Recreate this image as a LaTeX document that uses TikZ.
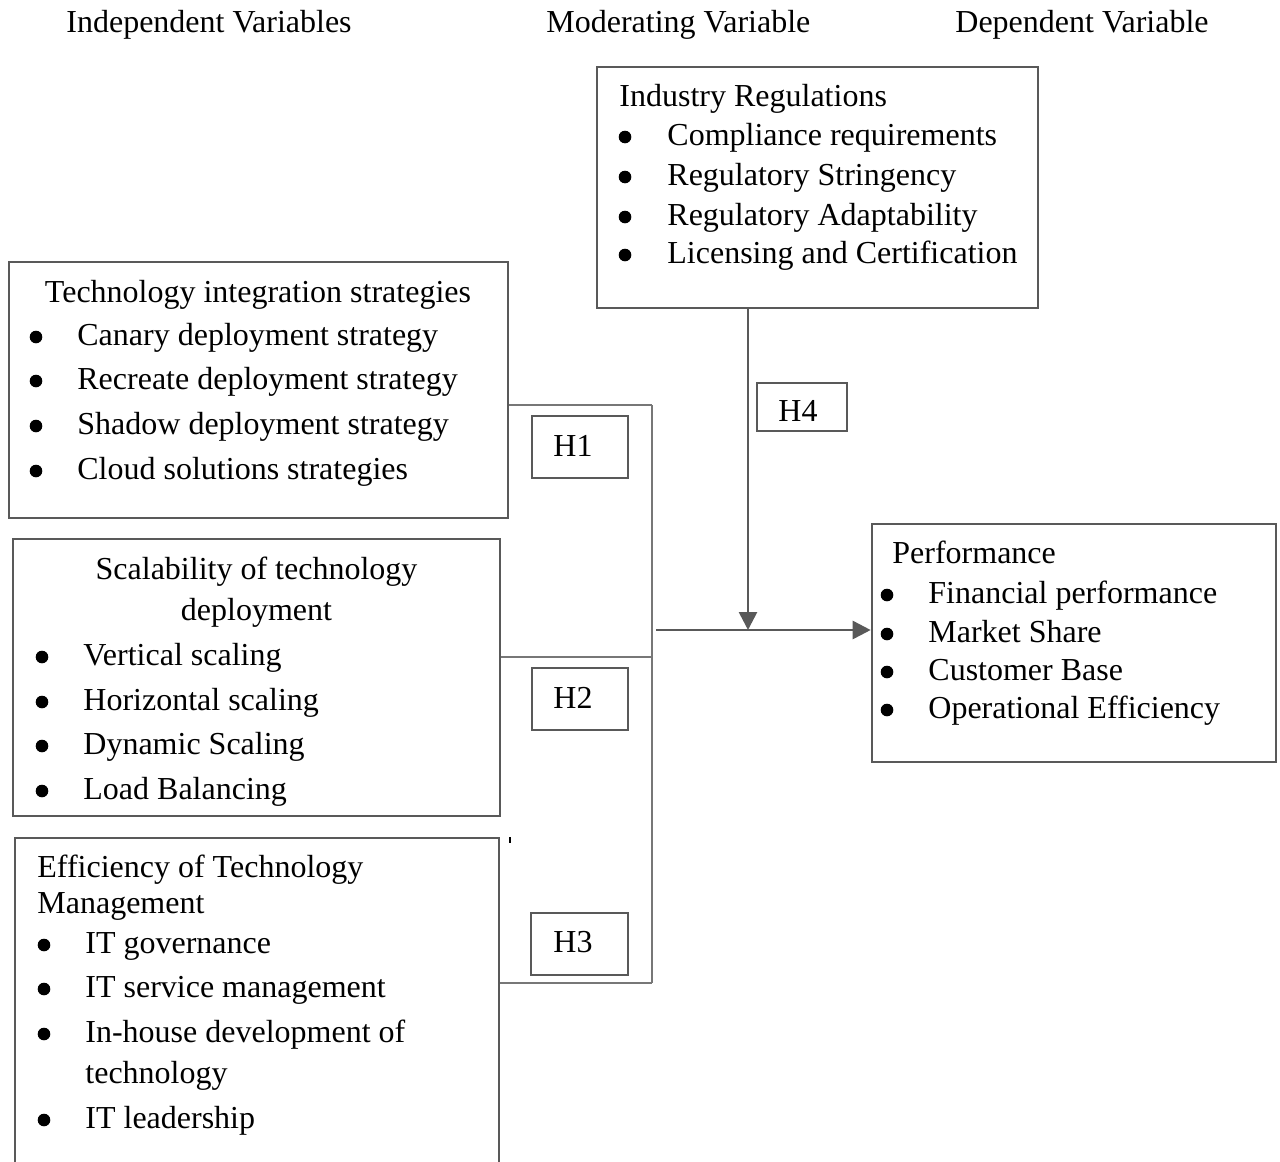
\documentclass[tikz,border=0pt]{standalone}
\usepackage{fontspec}
\setmainfont{Liberation Serif}
\usetikzlibrary{arrows.meta,fit}

\definecolor{framegray}{HTML}{595959}
\definecolor{linkgray}{HTML}{777777}

\tikzset{
  frame/.style={draw=framegray, line width=1.3pt, inner sep=0pt, rectangle},
  hypbox/.style={draw=framegray, line width=1pt, inner sep=0pt, rectangle},
  link/.style={draw=linkgray, line width=0.8pt},
  flow/.style={draw=framegray, line width=1.35pt, -{Triangle[length=9pt,width=9pt]}},
  txt/.style={anchor=base west, inner sep=0pt, font=\fontsize{16pt}{19pt}\selectfont},
  ctxt/.style={txt, anchor=base},
  bulletdot/.style={fill=black}
}

\begin{document}
\begin{tikzpicture}[x=0.5pt, y=-0.5pt]
\useasboundingbox (0,0) rectangle (1280,1162);
\clip (0,0) rectangle (1280,1162);

% column headings
\node[txt] (hind) at (66,32) {Independent Variables};
\node[txt] (hmod) at (546,32) {Moderating Variable};
\node[txt] (hdep) at (955,32) {Dependent Variable};

% variable boxes
\node[frame, fit={(9,262) (508,518)}] (tech) {};
\node[frame, fit={(13,539) (500,816)}] (scal) {};
\node[frame, fit={(15,838) (499,1200)}] (eff) {};
\node[frame, fit={(597,67) (1038,308)}] (ind) {};
\node[frame, fit={(872,524) (1276,762)}] (perf) {};

% technology integration strategies
\node[ctxt] (tech-t) at (258,302) {Technology integration strategies};
\foreach \y/\t [count=\i] in {345/Canary deployment strategy,
    389/Recreate deployment strategy, 434/Shadow deployment strategy,
    479/Cloud solutions strategies} {
  \fill[bulletdot] (36,\y-8) circle (6.3);
  \node[txt] (tech-\i) at (77,\y) {\t};
}

% scalability of technology deployment
\node[ctxt] (scal-t1) at (256.5,579) {Scalability of technology};
\node[ctxt] (scal-t2) at (256.5,620) {deployment};
\foreach \y/\t [count=\i] in {665/Vertical scaling, 710/Horizontal scaling,
    754/Dynamic Scaling, 799/Load Balancing} {
  \fill[bulletdot] (42,\y-8) circle (6.3);
  \node[txt] (scal-\i) at (83,\y) {\t};
}

% efficiency of technology management
\node[txt] (eff-t1) at (37,877) {Efficiency of Technology};
\node[txt] (eff-t2) at (37,913) {Management};
\foreach \y/\t [count=\i] in {953/IT governance, 997/IT service management,
    1042/In-house development of, 1128/IT leadership} {
  \fill[bulletdot] (44,\y-8) circle (6.3);
  \node[txt] (eff-\i) at (85,\y) {\t};
}
\node[txt] (eff-cont) at (85,1083) {technology};

% industry regulations
\node[txt] (ind-t) at (619,106) {Industry Regulations};
\foreach \y/\t [count=\i] in {145/Compliance requirements, 185/Regulatory Stringency,
    225/Regulatory Adaptability, 263/Licensing and Certification} {
  \fill[bulletdot] (625,\y-8) circle (6.3);
  \node[txt] (ind-\i) at (667,\y) {\t};
}

% performance
\node[txt] (perf-t) at (892,563) {Performance};
\foreach \y/\t [count=\i] in {603/Financial performance, 642/Market Share,
    680/Customer Base, 718/Operational Efficiency} {
  \fill[bulletdot] (887,\y-8) circle (6.3);
  \node[txt] (perf-\i) at (928,\y) {\t};
}

% hypothesis labels
\node[hypbox, fit={(532,416) (628,478)}] (h1) {};
\node[txt] (h1-t) at (553,456) {H1};
\node[hypbox, fit={(532,668) (628,730)}] (h2) {};
\node[txt] (h2-t) at (553,708) {H2};
\node[hypbox, fit={(531,913) (628,975)}] (h3) {};
\node[txt] (h3-t) at (553,952) {H3};
\node[hypbox, fit={(757,383) (847,431)}] (h4) {};
\node[txt] (h4-t) at (778,421) {H4};

% bracket joining the independent variables
\coordinate (j1) at (652,405);
\coordinate (j2) at (652,657);
\coordinate (j3) at (652,983);
\draw[link] (tech.east |- j1) -- (j1);
\draw[link] (scal.east |- j2) -- (j2);
\draw[link] (eff.east |- j3) -- (j3);
\draw[link] (j1) -- (j3);

% main effect and moderating effect
\coordinate (mstart) at (656,630);
\coordinate (mjoin) at (748,630);
\draw[flow] (mstart) -- (perf.west |- mstart);
\draw[flow] (ind.south -| mjoin) -- (mjoin);

% small stray tick
\fill[black] (508.5,837) rectangle (510.5,843);
\end{tikzpicture}
\end{document}
